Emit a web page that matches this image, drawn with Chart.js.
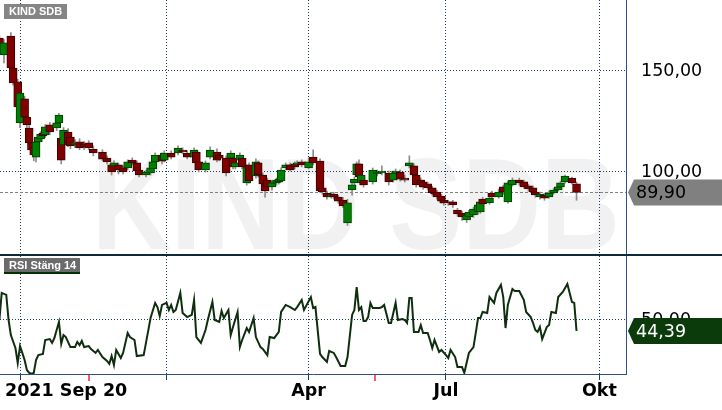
<!DOCTYPE html>
<html>
<head>
<meta charset="utf-8">
<script src="https://cdn.jsdelivr.net/npm/chart.js@4.4.0/dist/chart.umd.min.js"></script>
<style>
  body { margin: 0; background: #fff; }
  #wrap { position: relative; width: 722px; height: 410px; overflow: hidden; }
  canvas { position: absolute; left: 0; }
</style>
</head>
<body>
<div id="wrap">
  <canvas id="priceChart" width="722" height="256" style="top:0"></canvas>
  <canvas id="rsiChart" width="722" height="154" style="top:256px"></canvas>
</div>
<script>
// trading day index (0 = 2021-09-20)
const symbol = "KIND SDB";
const rsiTitle = "RSI Stäng 14";
const startLabel = "2021 Sep 20";
const tickDays = [9, 73, 135, 195, 262];
const tickLabels = ["", "", "Apr", "Jul", "Okt"];
const priceTicks = [100, 150];
const rsiTicks = [50];
const markerDays = [39, 164];

const candleDays = [0, 2, 5, 6, 8, 9, 11, 12, 13, 14, 15, 16, 17, 18, 19, 20, 22, 25, 26, 27,
  28, 30, 31, 33, 35, 37, 39, 41, 45, 47, 49, 50, 52, 54, 56, 58, 60, 61, 64, 66,
  67, 68, 71, 72, 75, 78, 80, 82, 85, 86, 87, 90, 92, 95, 96, 99, 101, 102, 103, 105,
  106, 108, 109, 112, 113, 115, 116, 117, 119, 121, 122, 123, 125, 127, 129, 130, 132, 135, 137, 140,
  141, 143, 145, 146, 148, 150, 152, 154, 155, 156, 157, 158, 159, 163, 165, 167, 170, 172, 173, 175,
  177, 179, 181, 182, 184, 185, 187, 189, 190, 191, 193, 194, 196, 198, 200, 202, 204, 205, 207, 209,
  210, 211, 214, 215, 218, 220, 222, 224, 227, 229, 231, 233, 234, 236, 238, 240, 242, 244, 245, 247,
  250, 252];
const opens = [166.3, 157.9, 167.3, 151.5, 144.6, 124.3, 136.2, 127.2, 121.8, 114.4, 112.4, 107.4, 114.9, 116.4, 119.3, 118.3, 123.3, 121.8, 124.3, 116.8,
  113.4, 119.8, 117.3, 113.4, 114.9, 113.9, 114.4, 111.4, 109.9, 106.9, 103.5, 103.0, 103.5, 102.0, 102.0, 105.9, 104.5, 101.0, 98.5, 99.5,
  101.5, 105.0, 108.4, 105.9, 109.4, 109.4, 110.9, 109.4, 107.4, 109.9, 105.0, 101.0, 107.4, 109.9, 108.4, 106.9, 106.9, 106.9, 102.5, 105.9,
  106.9, 94.6, 103.5, 98.0, 104.5, 98.5, 94.1, 96.0, 92.6, 94.6, 95.1, 95.6, 102.0, 103.5, 104.0, 103.5, 105.0, 102.0, 107.4, 105.4,
  92.1, 89.6, 87.6, 89.1, 87.6, 86.1, 74.8, 91.1, 94.6, 98.5, 104.0, 94.6, 96.0, 95.1, 99.0, 99.5, 99.5, 96.0, 99.5, 100.0,
  97.0, 103.0, 103.0, 98.5, 96.0, 95.1, 94.1, 92.1, 90.1, 90.1, 88.1, 86.1, 85.2, 85.2, 81.2, 79.7, 76.3, 77.7, 78.7, 80.2,
  80.2, 86.6, 84.7, 89.6, 87.6, 92.6, 85.2, 93.6, 96.0, 95.1, 93.1, 92.1, 90.1, 87.6, 88.6, 87.6, 89.6, 91.1, 92.6, 95.1,
  97.0, 94.1];
const highs = [167.5, 165.5, 169.0, 152.5, 146.0, 140.5, 137.5, 128.5, 123.0, 116.5, 113.5, 116.0, 118.5, 120.0, 121.0, 123.5, 124.5, 125.0, 129.0, 118.0,
  122.0, 121.5, 118.5, 116.0, 116.5, 115.0, 115.5, 113.0, 111.0, 108.0, 104.5, 105.5, 104.5, 103.0, 106.0, 107.0, 105.5, 102.0, 101.0, 103.0,
  106.0, 109.5, 109.5, 110.5, 110.5, 113.0, 112.0, 110.5, 112.0, 111.0, 106.0, 105.5, 112.5, 111.5, 109.5, 108.0, 110.5, 108.0, 105.5, 109.5,
  108.0, 103.5, 104.5, 106.5, 105.5, 99.5, 95.0, 97.0, 95.5, 97.0, 97.5, 102.0, 104.5, 104.5, 105.0, 105.5, 106.0, 107.0, 111.0, 106.5,
  93.0, 90.5, 90.0, 90.0, 88.5, 87.5, 86.5, 94.5, 97.5, 105.0, 106.0, 99.5, 97.0, 102.0, 101.0, 103.0, 100.5, 100.5, 101.5, 101.0,
  98.5, 108.0, 104.0, 99.5, 97.0, 96.0, 95.0, 93.0, 91.0, 91.0, 89.0, 87.0, 86.0, 86.0, 82.0, 80.5, 79.5, 81.0, 82.5, 84.5,
  86.5, 87.5, 88.5, 90.5, 91.5, 93.5, 95.5, 97.0, 97.0, 96.0, 94.0, 93.0, 91.0, 90.0, 89.5, 90.5, 92.0, 93.5, 95.5, 98.5,
  97.5, 95.0];
const lows = [158.5, 154.0, 150.5, 143.0, 130.5, 122.0, 126.0, 121.5, 113.0, 109.5, 105.5, 105.0, 113.5, 115.5, 116.5, 117.0, 118.5, 120.5, 123.5, 104.0,
  112.5, 112.5, 111.5, 112.0, 111.0, 111.0, 111.0, 108.0, 105.5, 104.0, 98.5, 102.0, 99.0, 99.0, 101.0, 103.5, 99.5, 97.5, 97.5, 98.5,
  100.5, 104.0, 104.0, 105.0, 106.5, 108.5, 109.0, 106.5, 106.5, 103.5, 100.0, 100.0, 106.5, 105.0, 105.5, 98.0, 106.0, 101.5, 101.5, 105.0,
  101.5, 93.5, 94.5, 97.0, 97.5, 93.0, 87.5, 91.5, 91.0, 93.5, 94.0, 95.0, 101.0, 100.5, 101.5, 102.5, 102.5, 101.5, 103.5, 90.0,
  89.0, 86.5, 87.0, 86.5, 84.5, 82.5, 73.5, 88.5, 93.5, 97.5, 96.5, 93.5, 92.5, 94.0, 98.0, 98.5, 93.5, 95.0, 98.5, 95.5,
  95.0, 102.0, 97.5, 92.5, 92.5, 91.5, 91.0, 88.5, 88.0, 86.5, 84.5, 83.5, 83.5, 82.5, 78.0, 76.0, 75.0, 76.5, 77.5, 79.0,
  79.5, 83.0, 84.0, 86.5, 87.0, 89.0, 84.5, 93.0, 93.5, 92.0, 90.5, 89.5, 87.5, 86.5, 86.0, 87.0, 89.0, 90.5, 92.0, 94.5,
  94.0, 86.0];
const closes = [159.4, 163.9, 151.5, 144.1, 132.2, 139.1, 127.2, 123.3, 114.4, 110.9, 108.4, 114.9, 117.3, 118.8, 117.8, 122.3, 119.8, 124.3, 128.2, 105.9,
  120.8, 113.4, 112.9, 114.4, 111.9, 112.4, 111.9, 109.4, 106.4, 105.0, 100.0, 104.5, 101.0, 100.0, 105.0, 104.5, 100.5, 98.5, 100.0, 102.0,
  105.0, 108.4, 105.4, 109.4, 107.4, 111.9, 109.9, 107.4, 110.9, 104.5, 101.0, 104.5, 110.9, 105.9, 106.9, 99.5, 109.4, 102.5, 104.5, 108.4,
  102.5, 102.5, 95.6, 105.0, 98.5, 94.1, 90.6, 92.6, 94.6, 96.0, 96.5, 101.0, 103.5, 101.0, 102.5, 104.5, 103.5, 105.0, 104.5, 90.6,
  90.1, 87.6, 89.1, 87.6, 85.6, 83.2, 84.7, 93.6, 96.5, 104.0, 97.5, 98.5, 93.6, 101.0, 100.0, 100.5, 95.1, 99.5, 100.5, 96.5,
  96.0, 104.5, 98.5, 93.6, 93.6, 92.6, 92.1, 89.6, 89.1, 87.6, 85.6, 84.7, 84.7, 83.7, 79.2, 77.7, 78.7, 80.2, 81.7, 83.7,
  85.2, 84.2, 87.1, 87.6, 90.1, 90.1, 94.6, 96.0, 94.6, 92.6, 91.6, 90.1, 88.6, 89.1, 87.1, 89.6, 91.1, 92.6, 94.6, 98.0,
  94.6, 89.9];

const rsiDays = [0, 1, 3, 4, 5, 7, 8, 9, 10, 11, 12, 13, 14, 15, 16, 17, 19, 20, 22, 23,
  24, 25, 26, 27, 28, 29, 31, 33, 34, 35, 36, 37, 39, 40, 42, 43, 45, 47, 48, 49,
  50, 51, 53, 54, 56, 57, 59, 60, 63, 64, 66, 68, 69, 70, 71, 73, 74, 75, 76, 77,
  79, 80, 82, 84, 85, 86, 88, 90, 91, 93, 94, 96, 97, 98, 100, 101, 102, 104, 105, 106,
  108, 109, 111, 112, 114, 115, 117, 118, 120, 122, 123, 125, 127, 129, 130, 132, 133, 136, 137, 138,
  140, 141, 143, 144, 146, 147, 149, 151, 152, 154, 155, 156, 157, 158, 159, 160, 161, 162, 163, 166,
  167, 168, 170, 171, 173, 174, 176, 177, 178, 179, 180, 181, 183, 184, 185, 187, 188, 189, 190, 192,
  193, 195, 196, 197, 199, 200, 202, 203, 205, 207, 208, 209, 210, 211, 213, 214, 216, 217, 219, 220,
  221, 222, 224, 225, 227, 229, 230, 232, 233, 234, 235, 236, 237, 239, 240, 241, 243, 244, 246, 247,
  248, 250, 251, 252];
const rsiValues = [50.0, 63.8, 62.8, 50.0, 42.3, 35.7, 28.1, 36.7, 33.2, 29.6, 24.5, 23.0, 22.6, 23.0, 29.6, 32.1, 32.7, 39.8, 40.3, 38.3,
  40.8, 44.9, 49.0, 37.8, 42.3, 41.3, 36.2, 36.2, 38.8, 37.2, 39.3, 36.2, 36.7, 35.2, 33.2, 34.7, 31.1, 29.1, 27.6, 31.6,
  27.0, 34.7, 30.6, 33.2, 43.4, 41.3, 39.8, 31.6, 32.1, 38.3, 51.0, 58.7, 56.6, 52.0, 57.7, 58.7, 55.1, 57.7, 54.1, 55.1,
  63.8, 53.6, 51.5, 52.6, 60.2, 41.3, 38.3, 44.9, 50.0, 59.2, 50.0, 49.0, 54.6, 51.0, 55.1, 42.3, 46.4, 54.1, 36.2, 39.8,
  45.9, 43.9, 51.0, 41.3, 36.2, 35.2, 32.1, 41.3, 40.8, 43.9, 54.1, 57.7, 56.6, 55.1, 56.6, 60.2, 55.1, 61.7, 56.1, 56.6,
  32.7, 31.1, 28.6, 34.2, 33.2, 31.1, 26.5, 26.5, 31.1, 52.6, 55.1, 66.8, 55.1, 56.6, 49.5, 49.5, 51.5, 58.7, 56.1, 56.1,
  56.6, 57.7, 48.5, 48.5, 58.7, 50.0, 50.5, 50.0, 48.5, 61.2, 61.2, 43.9, 43.9, 47.4, 43.4, 43.4, 39.8, 35.7, 39.8, 33.7,
  34.7, 32.1, 30.6, 34.7, 31.1, 26.0, 26.0, 23.0, 33.2, 36.2, 43.4, 51.0, 51.0, 54.1, 53.6, 61.7, 58.7, 63.8, 67.9, 61.7,
  45.9, 57.7, 65.8, 64.8, 64.8, 60.2, 54.1, 51.5, 48.5, 44.9, 43.9, 46.4, 40.3, 46.4, 47.4, 54.1, 53.6, 61.7, 64.3, 66.3,
  68.4, 59.2, 58.7, 44.39];

const NAVY = "#1c3d5e";
const FONT = "DejaVu Sans";
const fmt = v => v.toFixed(2).replace(".", ",");
const dayMin = 0.26, dayMax = 273.6;

function tagBox(ctx, y, text, fill, color) {
  const x0 = 628, x1 = 634, x2 = 722, h = 13;
  ctx.save();
  ctx.fillStyle = fill;
  ctx.beginPath();
  ctx.moveTo(x0, y);
  ctx.lineTo(x1, y - h);
  ctx.lineTo(x2, y - h);
  ctx.lineTo(x2, y + h);
  ctx.lineTo(x1, y + h);
  ctx.closePath();
  ctx.fill();
  ctx.fillStyle = color;
  ctx.font = "17.5px '" + FONT + "'";
  ctx.textBaseline = "middle";
  ctx.textAlign = "left";
  ctx.fillText(text, 636, y + 1);
  ctx.restore();
}

function legendBox(ctx, x, y, w, text, fill, underline) {
  ctx.save();
  ctx.fillStyle = fill;
  ctx.fillRect(x, y, w, 15);
  if (underline) {
    ctx.fillStyle = underline;
    ctx.fillRect(x, y + 14, w, 2);
  }
  ctx.fillStyle = "#fff";
  ctx.font = "bold 11px 'Liberation Sans'";
  ctx.textBaseline = "middle";
  ctx.fillText(text, x + 5, y + 8);
  ctx.restore();
}

// drop the extra room Chart.js reserves around tick labels
const noPad = s => { s.paddingTop = 0; s.paddingBottom = 0; s.paddingLeft = 0; s.paddingRight = 0; };

const lastClose = closes[closes.length - 1];
const lastRsi = rsiValues[rsiValues.length - 1];

const priceOverlay = {
  id: "priceOverlay",
  beforeDraw(chart) {
    const ctx = chart.ctx;
    ctx.save();
    ctx.fillStyle = "#f1f1f1";
    ctx.font = "bold 130px 'Liberation Sans'";
    ctx.textAlign = "center";
    ctx.textBaseline = "alphabetic";
    ctx.translate(356, 249);
    ctx.scale(0.84, 1);
    ctx.fillText(symbol, 0, 0);
    ctx.restore();
  },
  beforeDatasetsDraw(chart) {
    const ctx = chart.ctx, a = chart.chartArea;
    const y = Math.round(chart.scales.y.getPixelForValue(lastClose)) + 0.5;
    ctx.save();
    ctx.strokeStyle = "#808080";
    ctx.lineWidth = 1;
    ctx.setLineDash([3, 2]);
    ctx.beginPath();
    ctx.moveTo(a.left, y);
    ctx.lineTo(a.right, y);
    ctx.stroke();
    ctx.restore();
  },
  afterDraw(chart) {
    const ctx = chart.ctx;
    tagBox(ctx, chart.scales.y.getPixelForValue(lastClose), fmt(lastClose), "#808080", "#000");
    legendBox(ctx, 4, 4, 63, symbol, "#858585");
    ctx.fillStyle = "#0d2a3d";
    ctx.fillRect(0, 254, 722, 2);
  }
};

const rsiOverlay = {
  id: "rsiOverlay",
  afterDraw(chart) {
    const ctx = chart.ctx, xs = chart.scales.x;
    tagBox(ctx, chart.scales.y.getPixelForValue(lastRsi), fmt(lastRsi), "#0b3b0b", "#fff");
    legendBox(ctx, 4, 2, 76, rsiTitle, "#6b6b6b", "#003300");
    ctx.save();
    ctx.fillStyle = "#000";
    ctx.font = "bold 17.5px '" + FONT + "'";
    ctx.textBaseline = "middle";
    ctx.textAlign = "left";
    ctx.fillText(startLabel, xs.left + 5, xs.top + 6 + 1 + 10.5);
    ctx.fillStyle = "#ff5a5a";
    markerDays.forEach(d => {
      const x = Math.round(xs.getPixelForValue(d));
      ctx.fillRect(x - 1, xs.top + 1, 2, 6);
    });
    ctx.restore();
  }
};

new Chart(document.getElementById("priceChart"), {
  type: "bar",
  data: {
    datasets: [{
      label: "wick",
      data: candleDays.map((d, i) => ({ x: d, y: [lows[i], highs[i]] })),
      backgroundColor: "#8c8c8c",
      barThickness: 1,
      grouped: false,
      order: 2
    }, {
      label: symbol,
      data: candleDays.map((d, i) => ({ x: d, y: [opens[i], closes[i]] })),
      backgroundColor: closes.map((c, i) => c >= opens[i] ? "#008000" : "#800000"),
      borderColor: closes.map((c, i) => c >= opens[i] ? "#003a00" : "#3a0000"),
      borderWidth: 1,
      borderSkipped: false,
      barThickness: 8,
      grouped: false,
      order: 1
    }]
  },
  options: {
    responsive: false,
    devicePixelRatio: 1,
    animation: false,
    events: [],
    layout: { padding: { top: 0, bottom: 2, left: 0, right: 0 } },
    plugins: { legend: { display: false }, tooltip: { enabled: false } },
    scales: {
      x: {
        type: "linear", min: dayMin, max: dayMax, offset: false,
        afterBuildTicks: s => { s.ticks = tickDays.map(v => ({ value: v })); },
        afterFit: s => { noPad(s); s.height = 0; },
        grid: { color: NAVY, lineWidth: 1, drawTicks: false, offset: false },
        border: { display: false, dash: [1, 2] },
        ticks: { display: false }
      },
      y: {
        position: "right", min: 59.4, max: 185.15,
        afterBuildTicks: s => { s.ticks = priceTicks.map(v => ({ value: v })); },
        afterFit: s => { noPad(s); s.width = 96; },
        grid: { color: NAVY, lineWidth: 1, drawTicks: false },
        border: { display: true, color: "#2b5580", width: 1, dash: [1, 2] },
        ticks: { color: "#000", padding: 15, font: { family: FONT, size: 17.5 }, callback: v => fmt(v) }
      }
    }
  },
  plugins: [priceOverlay]
});

new Chart(document.getElementById("rsiChart"), {
  type: "line",
  data: {
    datasets: [{
      label: rsiTitle,
      data: rsiDays.map((d, i) => ({ x: d, y: rsiValues[i] })),
      borderColor: "#0e2e0e",
      borderWidth: 2,
      pointRadius: 0,
      tension: 0,
      fill: false
    }]
  },
  options: {
    responsive: false,
    devicePixelRatio: 1,
    animation: false,
    events: [],
    layout: { padding: 0 },
    plugins: { legend: { display: false }, tooltip: { enabled: false } },
    scales: {
      x: {
        type: "linear", min: dayMin, max: dayMax,
        afterBuildTicks: s => { s.ticks = tickDays.map(v => ({ value: v })); },
        afterFit: s => { noPad(s); s.height = 36; },
        grid: { color: NAVY, lineWidth: 1, drawTicks: true, tickLength: 6, tickColor: NAVY, tickBorderDash: [] },
        border: { display: true, color: "#2b5580", width: 1, dash: [1, 2] },
        ticks: {
          color: "#000", padding: 1, autoSkip: false, maxRotation: 0,
          font: { family: FONT, size: 17.5, weight: "bold" },
          callback: (v, i) => tickLabels[i]
        }
      },
      y: {
        position: "right", min: 22.45, max: 82.65,
        afterBuildTicks: s => { s.ticks = rsiTicks.map(v => ({ value: v })); },
        afterFit: s => { noPad(s); s.width = 96; },
        grid: { color: NAVY, lineWidth: 1, drawTicks: false },
        border: { display: true, color: "#2b5580", width: 1, dash: [1, 2] },
        ticks: { color: "#000", padding: 15, font: { family: FONT, size: 17.5 }, callback: v => fmt(v) }
      }
    }
  },
  plugins: [rsiOverlay]
});
</script>
</body>
</html>
